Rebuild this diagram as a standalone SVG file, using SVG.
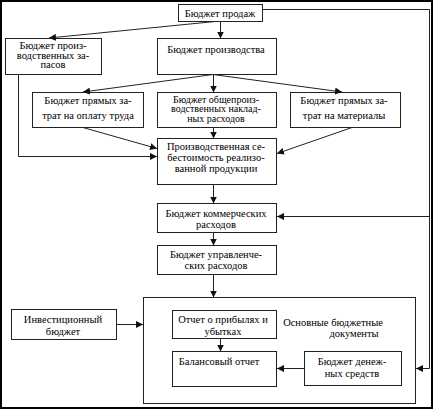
<svg xmlns="http://www.w3.org/2000/svg" width="434" height="410" viewBox="0 0 434 410">
<defs>
<marker id="ah" viewBox="0 0 10 10" refX="10" refY="5" markerWidth="7" markerHeight="7" markerUnits="userSpaceOnUse" orient="auto">
<path d="M0,0 L10,5 L0,10 z" fill="#111"/>
</marker>
<style>
.box{fill:#fff;stroke:#222;stroke-width:1}
.big{fill:none;stroke:#222;stroke-width:1}
text{font-family:"Times New Roman","Liberation Serif",Tinos,"DejaVu Serif",serif;font-size:10.5px;fill:#000;text-anchor:middle}
.sm{font-size:10px}
.c line,.c polyline{stroke:#222;stroke-width:1;fill:none;marker-end:url(#ah)}
</style>
</defs>
<rect x="0" y="0" width="434" height="410" fill="#fff"/>
<rect x="1" y="1" width="431" height="407" fill="none" stroke="#000" stroke-width="2"/>

<g id="n_sales"><rect class="box" x="178.5" y="4.5" width="84" height="17"/><text x="220" y="16.5">Бюджет продаж</text></g>
<g id="n_stocks"><rect class="box" x="5.5" y="38.5" width="96" height="36"/><text x="53" y="48.5">Бюджет произ-</text><text x="53" y="58.5">водственных за-</text><text x="53" y="68">пасов</text></g>
<g id="n_prod"><rect class="box" x="157.5" y="38.5" width="119" height="36"/><text x="216" y="52.5">Бюджет производства</text></g>
<g id="n_labor"><rect class="box" x="32.5" y="92.5" width="111" height="35"/><text x="88" y="104">Бюджет прямых за-</text><text x="88" y="118.5">трат на оплату труда</text></g>
<g id="n_overhead"><rect class="box" x="157.5" y="92.5" width="119" height="35"/><text class="sm" x="216" y="102.5">Бюджет общепроиз-</text><text class="sm" x="216" y="112">водственных наклад-</text><text class="sm" x="216" y="121.5">ных расходов</text></g>
<g id="n_materials"><rect class="box" x="290.5" y="92.5" width="110" height="35"/><text x="344" y="104">Бюджет прямых за-</text><text x="344" y="118.5">трат на материалы</text></g>
<g id="n_cost"><rect class="box" x="157.5" y="138.5" width="119" height="46"/><text x="216" y="149.5">Производственная се-</text><text x="216" y="160.5">бестоимость реализо-</text><text x="216" y="171.5">ванной продукции</text></g>
<g id="n_selling"><rect class="box" x="157.5" y="203.5" width="119" height="29"/><text x="216" y="216.5">Бюджет коммерческих</text><text x="216" y="227.5">расходов</text></g>
<g id="n_admin"><rect class="box" x="157.5" y="245.5" width="119" height="29"/><text x="216" y="257.5">Бюджет управленче-</text><text x="216" y="268.5">ских расходов</text></g>
<g id="n_main"><rect class="big" x="143.5" y="297.5" width="272" height="106"/><text x="333" y="325.5">Основные бюджетные</text><text x="354" y="336.5">документы</text></g>
<g id="n_invest"><rect class="box" x="11.5" y="309.5" width="105" height="30"/><text x="63" y="322.5">Инвестиционный</text><text x="63" y="334.5">бюджет</text></g>
<g id="n_pl"><rect class="box" x="172.5" y="310.5" width="104" height="28"/><text x="223" y="322.5">Отчет о прибылях и</text><text x="223" y="334.5">убытках</text></g>
<g id="n_balance"><rect class="box" x="172.5" y="351.5" width="104" height="35"/><text x="219" y="364.5">Балансовый отчет</text></g>
<g id="n_cash"><rect class="box" x="304.5" y="351.5" width="97" height="34"/><text x="352" y="364.5">Бюджет  денеж-</text><text x="352" y="376.5">ных средств</text></g>

<g id="connectors" class="c">
<line x1="220.5" y1="21.5" x2="220.5" y2="38.5"/>
<line x1="215" y1="21.5" x2="49" y2="38"/>
<line x1="213.5" y1="74.5" x2="213.5" y2="92.5"/>
<line x1="213" y1="74.5" x2="83" y2="92"/>
<line x1="213" y1="74.5" x2="342" y2="92"/>
<line x1="213.5" y1="127.5" x2="213.5" y2="138.5"/>
<line x1="83" y1="127.5" x2="157" y2="148.5"/>
<line x1="352" y1="127.5" x2="277" y2="153.5"/>
<polyline points="18.5,74.5 18.5,156.5 157,156.5"/>
<line x1="213.5" y1="184.5" x2="213.5" y2="203.5"/>
<line x1="213.5" y1="232.5" x2="213.5" y2="245.5"/>
<line x1="213.5" y1="274.5" x2="213.5" y2="297.5"/>
<polyline points="262.5,9.5 429.5,9.5 429.5,368.5 416,368.5"/>
<line x1="429.5" y1="216.5" x2="277" y2="216.5"/>
<line x1="116.5" y1="324.5" x2="143" y2="324.5"/>
<line x1="220.5" y1="338.5" x2="220.5" y2="351.5"/>
<line x1="304.5" y1="368.5" x2="277" y2="368.5"/>
</g>
</svg>
